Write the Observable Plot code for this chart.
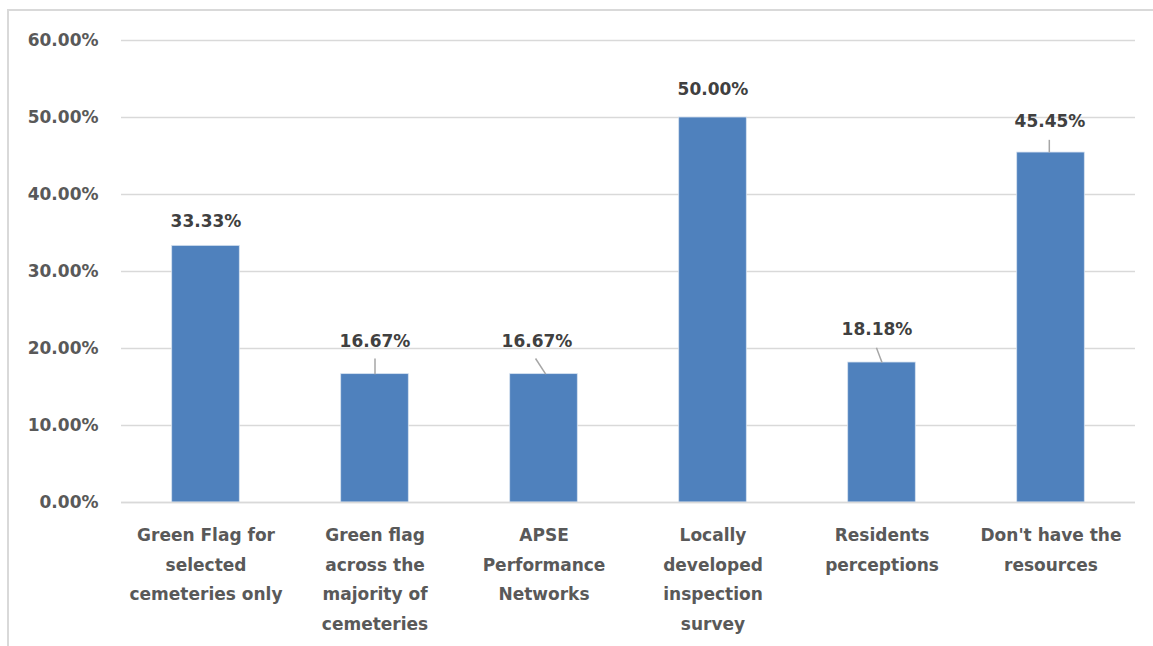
<!DOCTYPE html>
<html>
<head>
<meta charset="utf-8">
<script src="https://cdn.jsdelivr.net/npm/d3@7"></script>
<script src="https://cdn.jsdelivr.net/npm/@observablehq/plot@0.6"></script>
<style>
  html, body { margin: 0; padding: 0; background: #fff; }
  #wrap { position: relative; width: 1153px; height: 646px; overflow: hidden; }
  #frame { position: absolute; left: 7px; top: 9px; width: 1160px; height: 700px; border: 2px solid #d9d9d9; box-sizing: border-box; }
  #chart { position: absolute; left: 0; top: 0; }
</style>
</head>
<body>
<div id="wrap"><div id="frame"></div><div id="chart"></div></div>
<script>
// Data
const categories = [
  "Green Flag for selected cemeteries only",
  "Green flag across the majority of cemeteries",
  "APSE Performance Networks",
  "Locally developed inspection survey",
  "Residents perceptions",
  "Don't have the resources"
];
const tickLabels = [
  "Green Flag for\nselected\ncemeteries only",
  "Green flag\nacross the\nmajority of\ncemeteries",
  "APSE\nPerformance\nNetworks",
  "Locally\ndeveloped\ninspection\nsurvey",
  "Residents\nperceptions",
  "Don't have the\nresources"
];
const values = [33.33, 16.67, 16.67, 50.00, 18.18, 45.45];
const yTicks = [0, 10, 20, 30, 40, 50, 60];

// Annotation placement (label position in value units, pixel shift, leader)
const labelY = [36.5, 20.9, 20.9, 53.6, 22.5, 49.5];
const labelDx = [0, 0, -7, 0, -5, -1];
const leaders = [
  {i: 1, x1: 0, y1: 18.7, x2: 0},
  {i: 2, x1: -0.05, y1: 18.7, x2: 0.01},
  {i: 4, x1: -0.033, y1: 20.1, x2: 0},
  {i: 5, x1: -0.01, y1: 47.1, x2: -0.01}
];

const data = categories.map((c, i) => ({i, cat: c, value: values[i], ly: labelY[i]}));

const font = "'DejaVu Sans', sans-serif";

const labelMarks = data.map((d, k) => Plot.text([d], {
  x: "i", y: "ly", text: d => d.value.toFixed(2) + "%",
  dx: labelDx[k], fill: "#404040", fontSize: 17, fontWeight: "bold", lineAnchor: "middle"
}));

const chart = Plot.plot({
  width: 1153,
  height: 646,
  marginLeft: 121,
  marginRight: 18,
  marginTop: 40,
  marginBottom: 144,
  style: { fontFamily: font, background: "transparent" },
  x: { domain: [-0.5, 5.5], label: null },
  y: { domain: [0, 60], label: null },
  marks: [
    Plot.gridY(yTicks, { stroke: "#d9d9d9", strokeOpacity: 1, strokeWidth: 1.5 }),
    Plot.rectY(data, { x1: d => d.i - 0.2, x2: d => d.i + 0.2, y1: 0, y2: "value", fill: "#4f81bd", stroke: "#d6e2f0", strokeWidth: 0.8 }),
    Plot.ruleY([0], { stroke: "#d9d9d9", strokeWidth: 1.5 }),
    Plot.link(leaders, {
      x1: d => d.i + d.x1, y1: "y1", x2: d => d.i + d.x2, y2: d => values[d.i],
      stroke: "#a6a6a6", strokeWidth: 1.5
    }),
    ...labelMarks,
    Plot.axisY(yTicks, {
      tickSize: 0, tickPadding: 23, tickFormat: d => d.toFixed(2) + "%",
      fontSize: 17, fontWeight: "bold", fill: "#595959", label: null
    }),
    Plot.axisX([0, 1, 2, 3, 4, 5], {
      tickSize: 0, tickPadding: 18, tickFormat: i => tickLabels[i],
      fontSize: 17, fontWeight: "bold", fill: "#595959", lineHeight: 1.735, label: null
    })
  ]
});
document.getElementById("chart").appendChild(chart);
</script>
</body>
</html>
